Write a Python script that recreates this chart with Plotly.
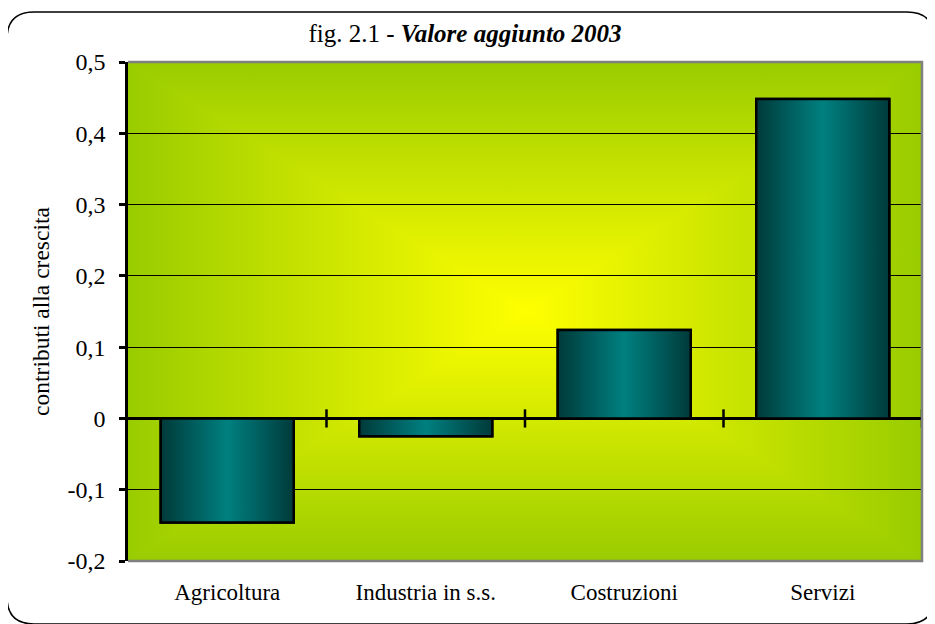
import base64
import plotly.graph_objects as go

# ---- data ----
categories = ["Agricoltura", "Industria in s.s.", "Costruzioni", "Servizi"]
values = [-0.146, -0.025, 0.124, 0.448]
y_tickvals = [-0.2, -0.1, 0.0, 0.1, 0.2, 0.3, 0.4, 0.5]
y_ticktext = ["-0,2", "-0,1", "0", "0,1", "0,2", "0,3", "0,4", "0,5"]
title_plain = "fig. 2.1 - "
title_bold = "Valore aggiunto 2003"
y_title = "contributi alla crescita"

# ---- layout constants (page body has an 8px default margin) ----
OFF = 8
W, H = 935 - OFF, 624 - OFF
ML, MT = 128 - OFF, 62 - OFF
MR = W - (922 - OFF)
MB = H - (561 - OFF)
PW, PH = W - ML - MR, H - MT - MB
BAR_W = 0.67
FONT = "Liberation Serif, Times New Roman, serif"
GREEN, YELLOW = "#99cc00", "#ffff00"
BAR_SCALE = [[0, "#003a3a"], [0.5, "#008080"], [1, "#003a3a"]]

# background: rectangular "from centre" gradient (4 triangles)
svg = f'''<svg xmlns="http://www.w3.org/2000/svg" width="100" height="100" viewBox="0 0 100 100" preserveAspectRatio="none">
<defs>
<linearGradient id="t" gradientUnits="userSpaceOnUse" x1="0" y1="0" x2="0" y2="50"><stop offset="0" stop-color="{GREEN}"/><stop offset="1" stop-color="{YELLOW}"/></linearGradient>
<linearGradient id="b" gradientUnits="userSpaceOnUse" x1="0" y1="100" x2="0" y2="50"><stop offset="0" stop-color="{GREEN}"/><stop offset="1" stop-color="{YELLOW}"/></linearGradient>
<linearGradient id="l" gradientUnits="userSpaceOnUse" x1="0" y1="0" x2="50" y2="0"><stop offset="0" stop-color="{GREEN}"/><stop offset="1" stop-color="{YELLOW}"/></linearGradient>
<linearGradient id="r" gradientUnits="userSpaceOnUse" x1="100" y1="0" x2="50" y2="0"><stop offset="0" stop-color="{GREEN}"/><stop offset="1" stop-color="{YELLOW}"/></linearGradient>
</defs>
<g shape-rendering="crispEdges">
<polygon points="0,0 100,0 50,50" fill="url(#t)"/>
<polygon points="0,100 100,100 50,50" fill="url(#b)"/>
<polygon points="0,0 0,100 50,50" fill="url(#l)"/>
<polygon points="100,0 100,100 50,50" fill="url(#r)"/>
</g></svg>'''
bg_uri = "data:image/svg+xml;base64," + base64.b64encode(svg.encode()).decode()

fig = go.Figure()

x_pos = list(range(len(categories)))

# base bars (real bar trace)
fig.add_trace(go.Bar(
    x=x_pos, y=values, width=BAR_W,
    marker=dict(color="#006060", line=dict(color="black", width=2.5)),
    hovertext=categories, showlegend=False,
))

# gradient overlay for each bar, built from the same values
for i, v in enumerate(values):
    x0, x1 = i - BAR_W / 2, i + BAR_W / 2
    fig.add_trace(go.Scatter(
        x=[x0, x0, x1, x1, x0], y=[0, v, v, 0, 0],
        mode="lines", fill="toself",
        fillgradient=dict(type="horizontal", colorscale=BAR_SCALE),
        line=dict(color="black", width=2.5),
        hoverinfo="skip", showlegend=False,
    ))

# cross tick marks on the zero axis between categories
bounds = [i + 0.5 for i in range(len(categories))]
fig.add_trace(go.Scatter(
    x=bounds, y=[0] * len(bounds), mode="markers",
    marker=dict(symbol="line-ns", size=13, line=dict(color="black", width=2.5)),
    hoverinfo="skip", showlegend=False,
))

def px(x):
    return (x - OFF - ML) / PW

def py(y):
    return (H - MB - (y - OFF)) / PH

# rounded outer frame (window pixel coords)
L, T, R, B, RAD = 7, 12, 934, 624, 27
frame = (
    f"M {px(L+RAD)},{py(T)} L {px(R-RAD)},{py(T)} Q {px(R)},{py(T)} {px(R)},{py(T+RAD)} "
    f"L {px(R)},{py(B-RAD)} Q {px(R)},{py(B)} {px(R-RAD)},{py(B)} "
    f"L {px(L+RAD)},{py(B)} Q {px(L)},{py(B)} {px(L)},{py(B-RAD)} "
    f"L {px(L)},{py(T+RAD)} Q {px(L)},{py(T)} {px(L+RAD)},{py(T)} Z"
)

fig.update_layout(
    width=W, height=H,
    margin=dict(l=ML, r=MR, t=MT, b=MB),
    paper_bgcolor="white", plot_bgcolor="rgba(0,0,0,0)",
    font=dict(family=FONT, size=23, color="black"),
    title=dict(
        text=f"{title_plain}<b><i>{title_bold}</i></b>",
        x=(465 - OFF) / W, xref="container", xanchor="center",
        y=1 - (33 - OFF) / H, yref="container", yanchor="middle",
        font=dict(family=FONT, size=25, color="black"),
    ),
    images=[dict(source=bg_uri, xref="paper", yref="paper", x=0, y=1,
                 sizex=1, sizey=1, sizing="stretch", layer="below")],
    shapes=[
        dict(type="path", xref="paper", yref="paper",
             path="M 0,1 L 1,1 L 1,0 L 0,0", line=dict(color="#808080", width=2.5)),
        dict(type="path", xref="paper", yref="paper", path=frame,
             line=dict(color="black", width=1.5), layer="above"),
    ],
    xaxis=dict(
        range=[-0.5, 3.5], tickmode="array", tickvals=x_pos, ticktext=categories,
        showgrid=False, zeroline=False, showline=False, ticks="",
        ticklabelstandoff=15, tickfont=dict(family=FONT, size=23),
        fixedrange=True,
    ),
    yaxis=dict(
        range=[-0.2, 0.5], tickmode="array", tickvals=y_tickvals, ticktext=y_ticktext,
        showgrid=True, gridcolor="black", gridwidth=1,
        zeroline=True, zerolinecolor="black", zerolinewidth=2.5,
        showline=True, linecolor="black", linewidth=2.5,
        ticks="outside", ticklen=6, tickwidth=2.5, tickcolor="black",
        ticklabelstandoff=9, tickfont=dict(family=FONT, size=24),
        title=dict(text=y_title, standoff=12, font=dict(family=FONT, size=23.5)),
        fixedrange=True,
    ),
    bargap=0.33,
)

fig.write_html("out.html")
